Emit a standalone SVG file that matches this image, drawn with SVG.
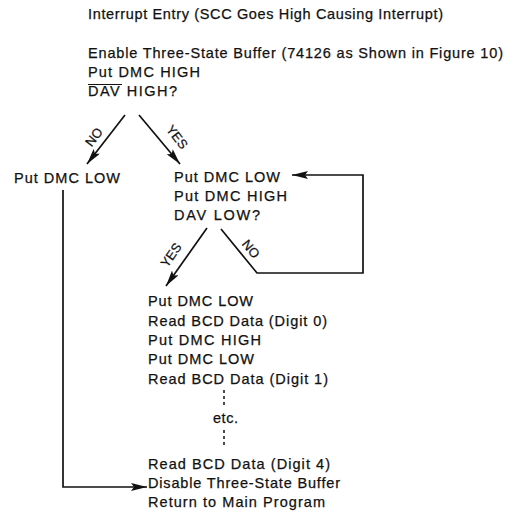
<svg xmlns="http://www.w3.org/2000/svg" width="513" height="512" viewBox="0 0 513 512">
<style>
text{font-family:"Liberation Sans","DejaVu Sans",sans-serif;font-size:14.5px;fill:#111;stroke:#111;stroke-width:0.25}
.lbl{font-size:13px}
.ln{stroke:#111;stroke-width:1.7;fill:none}
.dash{stroke:#111;stroke-width:1.5;stroke-dasharray:3,3;fill:none}
</style>
<defs>
<marker id="ah" viewBox="0 0 16 8" refX="16" refY="4" markerWidth="16" markerHeight="8" markerUnits="userSpaceOnUse" orient="auto">
<path d="M0,0 L16,4 L0,8 L3,4 Z" fill="#111"/>
</marker>
</defs>
<rect width="513" height="512" fill="#fff"/>
<g id="entry"><text x="88" y="19" textLength="355">Interrupt Entry (SCC Goes High Causing Interrupt)</text></g>
<g id="enable">
<text x="88" y="58" textLength="415">Enable Three-State Buffer (74126 as Shown in Figure 10)</text>
<text x="88" y="77" textLength="112">Put DMC HIGH</text>
<text x="88" y="96" textLength="89">DAV HIGH?</text>
<line x1="88" y1="84.5" x2="122" y2="84.5" stroke="#111" stroke-width="1.2"/>
</g>
<g id="left"><text x="14" y="183" textLength="106">Put DMC LOW</text></g>
<g id="loop">
<text x="174" y="182" textLength="106">Put DMC LOW</text>
<text x="174" y="201" textLength="113">Put DMC HIGH</text>
<text x="174" y="220" textLength="86">DAV LOW?</text>
</g>
<g id="read">
<text x="148" y="306" textLength="105">Put DMC LOW</text>
<text x="148" y="326" textLength="179">Read BCD Data (Digit 0)</text>
<text x="148" y="345" textLength="113">Put DMC HIGH</text>
<text x="148" y="364" textLength="106">Put DMC LOW</text>
<text x="148" y="384" textLength="180">Read BCD Data (Digit 1)</text>
<text x="213" y="423" textLength="25">etc.</text>
<text x="148" y="469" textLength="182">Read BCD Data (Digit 4)</text>
<text x="148" y="488" textLength="192">Disable Three-State Buffer</text>
<text x="148" y="507" textLength="177">Return to Main Program</text>
</g>
<g id="connectors">
<line class="ln" x1="125" y1="115" x2="87" y2="164" marker-end="url(#ah)"/>
<line class="ln" x1="139" y1="115" x2="180" y2="164" marker-end="url(#ah)"/>
<text class="lbl" transform="translate(94,137) rotate(-52)" text-anchor="middle" dy="4.5">NO</text>
<text class="lbl" transform="translate(177,137) rotate(52)" text-anchor="middle" dy="4.5">YES</text>
<polyline class="ln" points="221,229 257,273 363,273 363,175 292,175" marker-end="url(#ah)"/>
<text class="lbl" transform="translate(251,249) rotate(51)" text-anchor="middle" dy="4.5">NO</text>
<line class="ln" x1="207" y1="228" x2="166" y2="286" marker-end="url(#ah)"/>
<text class="lbl" transform="translate(171,255) rotate(-55)" text-anchor="middle" dy="4.5">YES</text>
<line class="dash" x1="224" y1="390" x2="224" y2="407"/>
<line class="dash" x1="224" y1="430" x2="224" y2="448"/>
<polyline class="ln" points="63,190 63,487 147,487" marker-end="url(#ah)"/>
</g>
</svg>
